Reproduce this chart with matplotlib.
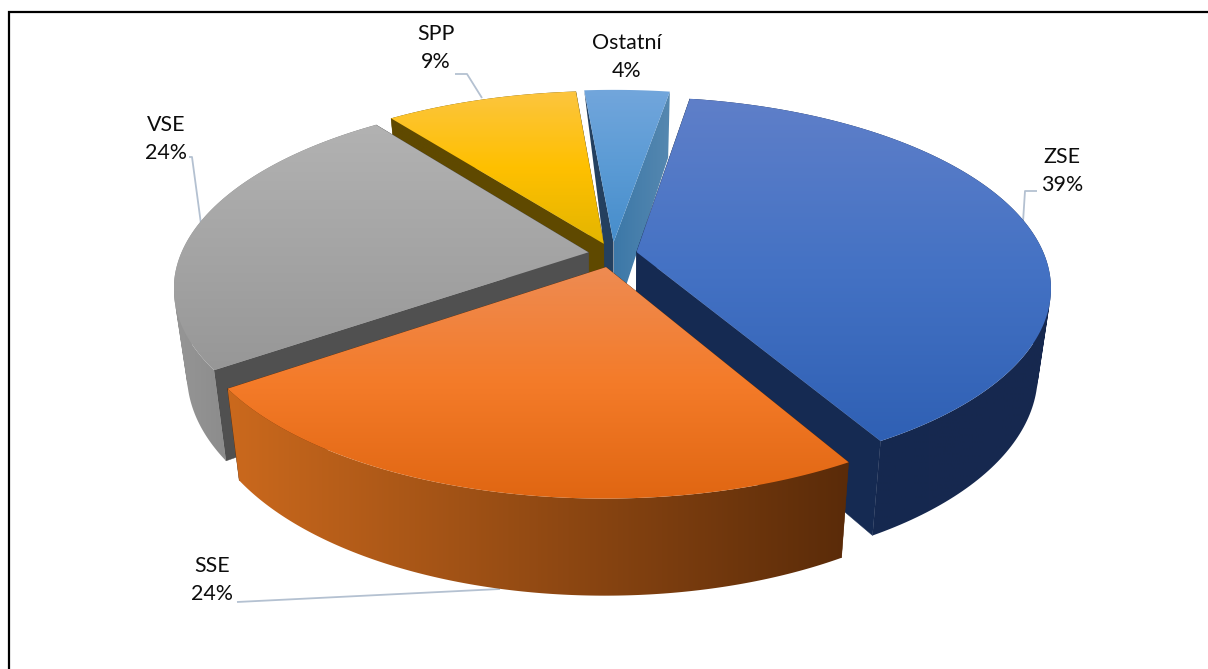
import numpy as np
import matplotlib
matplotlib.use("Agg")
import matplotlib.pyplot as plt
from matplotlib.colors import LinearSegmentedColormap
from matplotlib.patches import Polygon, PathPatch
from matplotlib.path import Path

# ---- data ----
categories = ["ZSE", "SSE", "VSE", "SPP", "Ostatní"]
shares = [39.1, 23.5, 24.4, 9.0, 4.0]

# ---- style ----
explode = [0.06, 0.072, 0.06, 0.06, 0.065]
top_colors = [
    ["#5f7fc9", "#4472c4", "#2f60b4"],
    ["#ee8b52", "#f47b29", "#e06612"],
    ["#b2b2b2", "#a5a5a5", "#979797"],
    ["#fcc53f", "#ffc000", "#e3b500"],
    ["#72a6dc", "#5b9bd5", "#468dcb"],
]
rim_colors = [
    ["#14284f", "#17294f"],
    ["#cb691d", "#5a2b09"],
    ["#969696", "#6e6e6e"],
    ["#5f4900", "#5f4900"],
    ["#3c78a8", "#5688b0"],
]
wall_start = ["#152a52", "#5a2b09", "#505050", "#5f4900", "#24405f"]
wall_end = ["#152a52", "#5a2b09", "#505050", "#5f4900", "#4a80ac"]
draw_order = [4, 3, 0, 2, 1]
label_pos = [(1062, 171), (212, 580), (166, 139), (436, 48), (627, 57)]
leaders = [
    [(1037, 191), (1025, 191), (1023, 222)],
    [(237, 602), (500, 589)],
    [(189, 157), (192, 157), (201, 224)],
    [(455, 74), (467, 74), (482, 98)],
]

# ---- projection parameters ----
cx, cy, R, S, k = 612.5, 254.0, 407.5, 184.0, 0.182
start_deg = 9.5
bottom_scale, drop_mid, drop_slope = 0.97, 82.6, 20.4


def project(X, Y, bottom=False):
    w = 1 - k * Y
    x = cx + R * X / w
    y = cy + S * Y / w
    if bottom:
        x = cx + (x - cx) * bottom_scale
        y = cy + (y - cy) * bottom_scale + drop_mid + drop_slope * Y
    return x, y


fig = plt.figure(figsize=(12.08, 6.69), dpi=100)
ax = fig.add_axes([0, 0, 1, 1])
ax.set_axis_off()
plt.rcParams["font.family"] = ["Lato", "DejaVu Sans"]


def gradient_in_path(path, colors, vertical, z):
    patch = PathPatch(path, fc="none", ec="none", transform=ax.transData)
    ax.add_patch(patch)
    cmap = LinearSegmentedColormap.from_list("g", colors)
    g = np.linspace(0, 1, 256)
    img = g[:, None] if vertical else g[None, :]
    v = path.vertices
    ext = [v[:, 0].min(), v[:, 0].max(), v[:, 1].max(), v[:, 1].min()]
    im = ax.imshow(img, cmap=cmap, extent=ext, aspect="auto", zorder=z,
                   interpolation="bilinear", origin="upper")
    im.set_clip_path(patch)


def ring_path(tx, ty, bx, by):
    paths = []
    for j in range(len(tx) - 1):
        q = np.array([[tx[j], ty[j]], [tx[j + 1], ty[j + 1]], [bx[j + 1], by[j + 1]], [bx[j], by[j]]])
        x, y = q[:, 0], q[:, 1]
        area = np.dot(x, np.roll(y, -1)) - np.dot(y, np.roll(x, -1))
        if area < 0:
            q = q[::-1]
        paths.append(Path(np.vstack([q, q[:1]]), closed=True))
    return Path.make_compound_path(*paths)


edges = np.concatenate([[0], np.cumsum(shares)]) / np.sum(shares) * 360 + start_deg
z = 1.0
for i in draw_order:
    a0, a1 = np.radians(edges[i]), np.radians(edges[i + 1])
    mid = (a0 + a1) / 2
    ex, ey = explode[i] * np.sin(mid), -explode[i] * np.cos(mid)
    t = np.linspace(a0, a1, 160)
    X = ex + np.sin(t)
    Y = ey - np.cos(t)
    tx, ty = project(X, Y)
    bx, by = project(X, Y, bottom=True)
    p0, q0 = project(ex, ey)
    p1, q1 = project(ex, ey, bottom=True)

    if i == 4:
        # the narrow slice: thin dark left wall, shaded right wall
        ax.add_patch(Polygon([(p0, q0), (tx[0], ty[0]), (p0 - 10, q0 + 2), (p0 - 10, q1), (p0, q1)],
                             closed=True, fc=wall_start[i], ec="none", zorder=z))
        wall = Path([(p0, q0), (tx[-1], ty[-1]), (bx[-1], by[-1]), (p1, q1), (p0, q0)], closed=True)
        gradient_in_path(wall, rim_colors[i], False, z + 0.02)
    else:
        ax.add_patch(Polygon([(p0, q0), (tx[0], ty[0]), (bx[0], by[0]), (p1, q1)],
                             closed=True, fc=wall_start[i], ec=wall_start[i], lw=0.3, zorder=z + 0.01))
        ax.add_patch(Polygon([(p0, q0), (tx[-1], ty[-1]), (bx[-1], by[-1]), (p1, q1)],
                             closed=True, fc=wall_end[i], ec=wall_end[i], lw=0.3, zorder=z + 0.02))
        gradient_in_path(ring_path(tx, ty, bx, by), rim_colors[i], False, z + 0.03)
    verts = np.column_stack([np.r_[p0, tx, p0], np.r_[q0, ty, q0]])
    gradient_in_path(Path(verts, closed=True), top_colors[i], True, z + 0.05)
    z += 1

for pts in leaders:
    p = np.array(pts)
    ax.plot(p[:, 0], p[:, 1], color="#b4c1d1", lw=1.3, zorder=0.5, solid_capstyle="butt")

for name, v, (x, y) in zip(categories, shares, label_pos):
    ax.text(x, y, f"{name}\n{v:.0f}%", ha="center", va="center", fontsize=15.4,
            color="#0d0d0d", linespacing=1.5, zorder=20, family=["Lato", "DejaVu Sans"])

# report frame (left and top rules)
ax.plot([8.5, 8.5, 1208], [669, 12, 12], color="black", lw=1.6, zorder=30, solid_joinstyle="miter")

ax.set_xlim(0, 1208)
ax.set_ylim(669, 0)
fig.savefig("out.png", dpi=100, facecolor="white")
